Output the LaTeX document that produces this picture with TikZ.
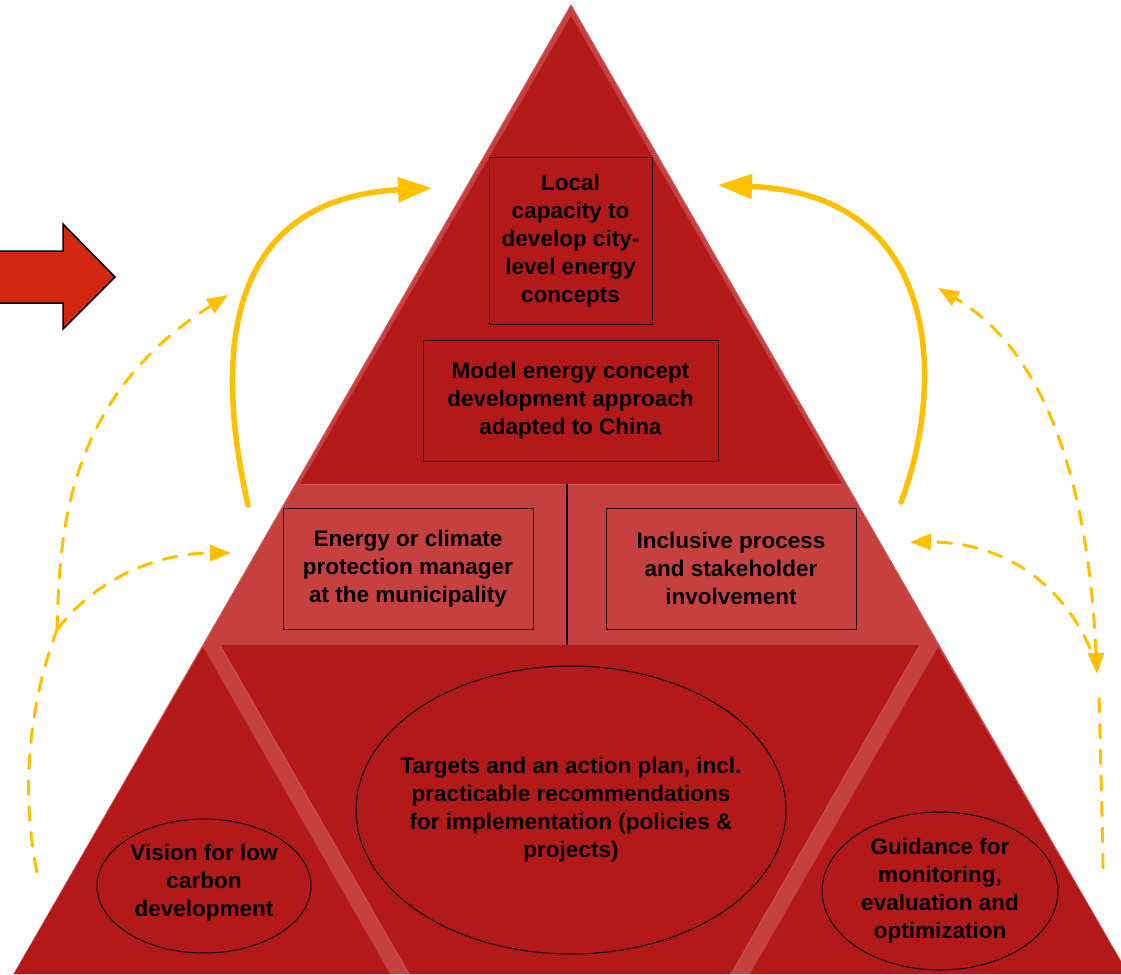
\documentclass[tikz,border=0pt]{standalone}
\usepackage{fontspec}
\setmainfont{Liberation Sans}
\usetikzlibrary{arrows.meta}
\definecolor{darkred}{HTML}{B41919}
\definecolor{lightred}{HTML}{C64040}
\definecolor{rimred}{HTML}{D25858}
\definecolor{arrowred}{HTML}{D42710}
\definecolor{gold}{HTML}{FFC000}
\tikzset{
 lbl/.style={font=\bfseries\fontsize{22.5}{28}\selectfont, align=center, text=black, inner sep=0pt},
 box/.style={lbl, draw=black!85!red, line width=1pt},
 oval/.style={draw=black, line width=1pt},
 solidarrow/.style={draw=gold, line width=5.5pt, line cap=round, -{Triangle[length=34pt,width=24pt]}},
 dasharrow/.style={draw=gold, line width=3pt, line cap=round, dash pattern=on 14pt off 12pt, -{Triangle[length=21pt,width=16pt]}},
 dashline/.style={draw=gold, line width=3pt, line cap=round, dash pattern=on 14pt off 12pt},
 dashboth/.style={draw=gold, line width=3pt, line cap=round, dash pattern=on 14pt off 12pt, {Triangle[length=21pt,width=16pt]}-{Triangle[length=21pt,width=16pt]}},
}
\begin{document}
\begin{tikzpicture}[x=1pt,y=-1pt]
\useasboundingbox (0,0) rectangle (1121,974);
% big triangle
\fill[lightred] (571,5) -- (14,974) -- (1128,974) -- cycle;
\draw[rimred, line width=1pt] (571,5) -- (14,974);
\draw[rimred, line width=1pt] (571,5) -- (1128,974);
% top triangle
\fill[darkred] (571,16) -- (300,484) -- (842,484) -- cycle;
\draw[rimred, line width=0.8pt] (300,484) -- (842,484);
% bottom central inverted trapezoid
\fill[darkred] (220,645) -- (920,645) -- (731,974) -- (409,974) -- cycle;
% bottom left and right triangles
\fill[darkred] (203,647) -- (14,974) -- (390,974) -- cycle;
\fill[darkred] (938,647) -- (750,974) -- (1128,974) -- cycle;
\draw[rimred, line width=0.8pt] (220,645) -- (409,974);
\draw[rimred, line width=0.8pt] (920,645) -- (731,974);
% divider
\draw[black, line width=1.2pt] (567,484) -- (567,645);
% boxes
\node[box, minimum width=163pt, minimum height=167pt] (local) at (570.5,240.5) {Local\\capacity to\\develop city-\\level energy\\concepts};
\node[box, minimum width=295pt, minimum height=121pt] (model) at (570.5,400.5) {Model energy concept\\development approach\\adapted to China};
\node[box, minimum width=250pt, minimum height=121pt] (manager) at (408,568.5) {Energy or climate\\protection manager\\at the municipality};
\node[box, minimum width=250pt, minimum height=121pt] (inclusive) at (731,568.5) {Inclusive process\\and stakeholder\\involvement};
% ellipses
\draw[oval] (571,810) ellipse [x radius=215, y radius=144];
\node[lbl] (targets) at (571,810) {Targets and an action plan, incl.\\practicable recommendations\\for implementation (policies \&\\projects)};
\draw[oval] (204,886) ellipse [x radius=107, y radius=67];
\node[lbl] (vision) at (204,883) {Vision for low\\carbon\\development};
\draw[oval] (940,891) ellipse [x radius=118, y radius=79];
\node[lbl] (guidance) at (940,891) {Guidance for\\monitoring,\\evaluation and\\optimization};
% red block arrow
\draw[fill=arrowred, draw=black, line width=1.5pt, line join=miter]
  (-5,251) -- (63,251) -- (63,224) -- (115,277) -- (63,329) -- (63,303) -- (-5,303) -- cycle;
% coordinates for yellow arrows
\coordinate (ls0) at (248,505);
\coordinate (ls1) at (432,188);
\coordinate (rs0) at (901,502);
\coordinate (rs1) at (718,185);
\coordinate (lb0) at (37,872);
\coordinate (lj) at (57,630);
\coordinate (lt1) at (228,295);
\coordinate (ll1) at (231,553);
\coordinate (rb0) at (1103,868);
\coordinate (rb1) at (1099,692);
\coordinate (rj) at (1097,674);
\coordinate (rt1) at (938,288);
\coordinate (rl0) at (1090,648);
\coordinate (rl1) at (910,542);
% solid arrows
\draw[solidarrow] (ls0) .. controls (222,390) and (205,200) .. (ls1);
\draw[solidarrow] (rs0) .. controls (942,395) and (950,195) .. (rs1);
% dashed arrows, left
\draw[dashline] (lb0) .. controls (20,790) and (30,700) .. (lj);
\draw[dasharrow] (lj) .. controls (60,540) and (62,400) .. (lt1);
\draw[dasharrow] (lj) .. controls (90,585) and (150,553) .. (ll1);
% dashed arrows, right
\draw[dashline] (rb0) .. controls (1102,800) and (1100,740) .. (rb1);
\draw[dashboth] (rj) .. controls (1090,520) and (1060,360) .. (rt1);
\draw[dasharrow] (rl0) .. controls (1060,580) and (1000,542) .. (rl1);
\end{tikzpicture}
\end{document}
